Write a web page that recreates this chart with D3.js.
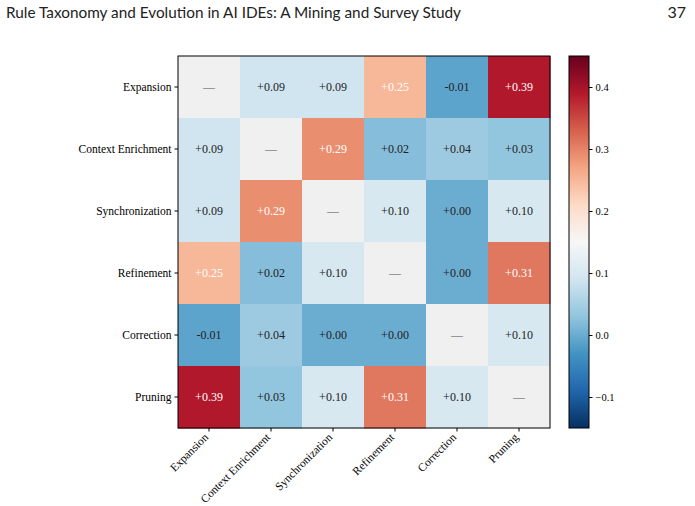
<!DOCTYPE html>
<html>
<head>
<meta charset="utf-8">
<script src="https://cdn.jsdelivr.net/npm/d3@7"></script>
<style>
  body { margin: 0; background: #fff; }
  svg text { font-family: "Liberation Serif", "Times New Roman", serif; }
</style>
</head>
<body>
<svg id="chart" width="695" height="506"></svg>
<script>
var categories = ["Expansion", "Context Enrichment", "Synchronization", "Refinement", "Correction", "Pruning"];

// correlation matrix, null on the diagonal
var matrix = [
    [null, 0.09, 0.09, 0.25, -0.01, 0.39],
    [0.09, null, 0.29, 0.02, 0.04, 0.03],
    [0.09, 0.29, null, 0.10, 0.00, 0.10],
    [0.25, 0.02, 0.10, null, 0.00, 0.31],
    [-0.01, 0.04, 0.00, 0.00, null, 0.10],
    [0.39, 0.03, 0.10, 0.31, 0.10, null]
];

var colorTicks = [-0.1, 0.0, 0.1, 0.2, 0.3, 0.4];
var colorDomain = [-0.15, 0.45];

var title = "Rule Taxonomy and Evolution in AI IDEs: A Mining and Survey Study";
var pageNumber = "37";

// matplotlib RdBu_r stops
var rdbu = ["#053061", "#2166ac", "#4393c3", "#92c5de", "#d1e5f0", "#f7f7f7",
            "#fddbc7", "#f4a582", "#d6604d", "#b2182b", "#67001f"];

var svg = d3.select("#chart");

svg.append("text")
    .attr("x", 6)
    .attr("y", 18)
    .attr("font-size", 16)
    .attr("textLength", 455)
    .attr("lengthAdjust", "spacingAndGlyphs")
    .style("font-family", "Lato, 'Open Sans', sans-serif")
    .attr("fill", "#222")
    .text(title);

svg.append("text")
    .attr("x", 686)
    .attr("y", 18)
    .attr("font-size", 16)
    .attr("text-anchor", "end")
    .style("font-family", "Lato, 'Open Sans', sans-serif")
    .attr("fill", "#222")
    .text(pageNumber);

var margin = {left: 178, top: 56},
    size = 372;

var x = d3.scaleBand().domain(categories).range([0, size]);
var y = d3.scaleBand().domain(categories).range([0, size]);

var stops = d3.range(rdbu.length).map(function (i) {
    return colorDomain[0] + i * (colorDomain[1] - colorDomain[0]) / (rdbu.length - 1);
});
var color = d3.scaleLinear().domain(stops).range(rdbu).interpolate(d3.interpolateRgb).clamp(true);

var main = svg.append("g")
    .attr("transform", "translate(" + margin.left + "," + margin.top + ")");

var cells = [];
matrix.forEach(function (row, i) {
    row.forEach(function (v, j) {
        cells.push({row: categories[i], col: categories[j], value: v});
    });
});

main.selectAll("rect.cell")
    .data(cells)
    .enter().append("rect")
    .attr("class", "cell")
    .attr("x", function (d) { return x(d.col); })
    .attr("y", function (d) { return y(d.row); })
    .attr("width", x.bandwidth() + 0.5)
    .attr("height", y.bandwidth() + 0.5)
    .attr("fill", function (d) {
        return d.value === null ? "#f0f0f0" : color(d.value);
    });

main.selectAll("text.cell-label")
    .data(cells)
    .enter().append("text")
    .attr("class", "cell-label")
    .attr("x", function (d) { return x(d.col) + x.bandwidth() / 2; })
    .attr("y", function (d) { return y(d.row) + y.bandwidth() / 2; })
    .attr("dy", "0.35em")
    .attr("text-anchor", "middle")
    .attr("font-size", 12)
    .attr("fill", function (d) {
        if (d.value === null) return "#555";
        return d.value > 0.2 ? "#fff" : "#222";
    })
    .text(function (d) {
        if (d.value === null) return "\u2014";
        return d3.format("+.2f")(d.value).replace("\u2212", "-");
    });

// frame
main.append("rect")
    .attr("width", size)
    .attr("height", size)
    .attr("fill", "none")
    .attr("stroke", "#000")
    .attr("stroke-width", 1);

var yAxis = main.append("g")
    .call(d3.axisLeft(y).tickSize(3.5).tickPadding(3));
yAxis.select(".domain").remove();
yAxis.selectAll("text").attr("font-size", 11.5).attr("fill", "#000")
    .style("font-family", "'Liberation Serif', serif");

var xAxis = main.append("g")
    .attr("transform", "translate(0," + size + ")")
    .call(d3.axisBottom(x).tickSize(3.5).tickPadding(3));
xAxis.select(".domain").remove();
xAxis.selectAll("text")
    .attr("font-size", 11.5)
    .attr("fill", "#000")
    .style("font-family", "'Liberation Serif', serif")
    .attr("text-anchor", "end")
    .attr("x", 0)
    .attr("y", 0)
    .attr("dy", 0)
    .attr("transform", "translate(0,10) rotate(-45)");

// colorbar
var cb = {x: 569, width: 20};
var cy = d3.scaleLinear().domain(colorDomain).range([margin.top + size, margin.top]);

var defs = svg.append("defs");
var grad = defs.append("linearGradient")
    .attr("id", "cbar")
    .attr("x1", 0).attr("y1", 1).attr("x2", 0).attr("y2", 0);
grad.selectAll("stop")
    .data(rdbu)
    .enter().append("stop")
    .attr("offset", function (d, i) { return i / (rdbu.length - 1); })
    .attr("stop-color", function (d) { return d; });

svg.append("rect")
    .attr("x", cb.x)
    .attr("y", cy(colorDomain[1]))
    .attr("width", cb.width)
    .attr("height", cy(colorDomain[0]) - cy(colorDomain[1]))
    .attr("fill", "url(#cbar)")
    .attr("stroke", "#000")
    .attr("stroke-width", 1);

var cAxis = svg.append("g")
    .attr("transform", "translate(" + (cb.x + cb.width) + ",0)")
    .call(d3.axisRight(cy).tickValues(colorTicks).tickSize(3.5).tickPadding(3)
        .tickFormat(function (d) { return d3.format(".1f")(d); }));
cAxis.select(".domain").remove();
cAxis.selectAll("text").attr("font-size", 10.5).attr("fill", "#000")
    .style("font-family", "'Liberation Serif', serif");
</script>
</body>
</html>
